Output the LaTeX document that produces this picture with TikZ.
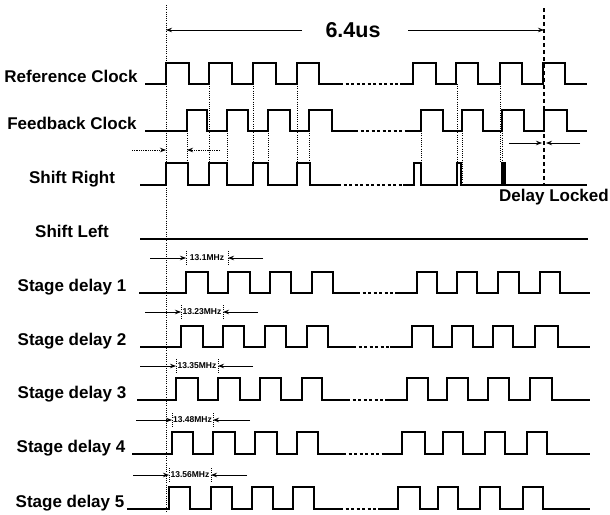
\documentclass[tikz,border=0pt]{standalone}
\usepackage{fontspec}
\setmainfont{Liberation Sans}
\usetikzlibrary{arrows.meta}
\tikzset{
  sig/.style={line width=2.3pt, line join=miter},
  gap/.style={line width=1.6pt, dash pattern=on 3pt off 2.5pt},
  guide/.style={line width=0.7pt, dash pattern=on 1pt off 1.2pt},
  lock/.style={line width=2pt, dash pattern=on 4pt off 3pt},
  dim/.style={line width=0.8pt, -{Stealth[length=6pt,width=4.5pt]}},
  lbl/.style={font=\fontsize{17}{19}\selectfont\bfseries, anchor=base},
  freq/.style={font=\fontsize{8.5}{9}\selectfont\bfseries, inner sep=0.5pt},
}
% one waveform: low y, high y, start x, rise/fall pairs, end x
\newcommand{\wave}[5]{%
  \draw[sig] (#3,#1) foreach \ra/\fa in {#4} { -- (\ra,#1) -- (\ra,#2) -- (\fa,#2) -- (\fa,#1) } -- (#5,#1);}

\begin{document}
\begin{tikzpicture}[x=1pt,y=-1pt]
\useasboundingbox (0,0) rectangle (610,514);

% Period markers
\coordinate (t0top) at (166,5);
\coordinate (t0bot) at (166,512);
\coordinate (t1top) at (544,8);
\coordinate (t1bot) at (544,185);
\draw[guide] (t0top) -- (t0bot);
\draw[lock] (t1top) -- (t1bot);
\node[font=\fontsize{21.5}{24}\selectfont\bfseries] (period) at (353,30) {6.4us};
\coordinate (pl) at (302,30);
\coordinate (pr) at (408,30);
\draw[dim] (pl) -- (t0top |- period);
\draw[dim] (pr) -- (t1top |- period);

% Signal names
\node[lbl] (ref) at (71,82) {Reference Clock};
\node[lbl] (fb) at (72,129) {Feedback Clock};
\node[lbl] (sr) at (72,183) {Shift Right};
\node[lbl] (sl) at (72,237) {Shift Left};
\node[lbl] (sd1) at (72,291) {Stage delay 1};
\node[lbl] (sd2) at (72,345) {Stage delay 2};
\node[lbl] (sd3) at (72,398) {Stage delay 3};
\node[lbl] (sd4) at (71,452) {Stage delay 4};
\node[lbl] (sd5) at (70,507) {Stage delay 5};

% Reference clock
\wave{84}{63}{145}{166/189,209/232,253/276,297/319}{340}
\draw[gap] (340,84) -- (400,84);
\wave{84}{63}{400}{413/436,456/478,500/522,543/565}{587}

% Feedback clock
\wave{131}{110}{145}{187/207,227/248,268/290,309/332}{355}
\draw[gap] (355,131) -- (405,131);
\wave{131}{110}{405}{421/443,462/483,502/524,544/567}{587}

% Shift right
\wave{185}{163}{140}{166/188,209/227,253/268,297/310}{338}
\draw[gap] (338,185) -- (403,185);
\wave{185}{163}{403}{414/421,457/461,502/504.5}{587}

% Shift left
\draw[sig] (140,239) -- (588,239);

% Guides from the clock edges
\foreach \x in {209,253,297,457,500} \draw[guide] (\x,84) -- (\x,163);
\foreach \x in {187,227,268,309,421,462,502} \draw[guide] (\x,131) -- (\x,185);

% Phase error arrows
\coordinate (sra) at (132,150);
\coordinate (srb) at (220,150);
\coordinate (srt) at (187,150);
\draw[dim, densely dotted] (sra) -- (t0top |- sra);
\draw[dim, densely dotted] (srb) -- (srt);

% Lock point
\coordinate (lka) at (509,143);
\coordinate (lkb) at (580,143);
\draw[dim] (lka) -- ([xshift=-2pt]t1top |- lka);
\draw[dim] (lkb) -- ([xshift=2pt]t1top |- lkb);
\node[lbl] (locked) at (554,201) {Delay Locked};

% Stage delays
\wave{293}{272}{139}{186/208,228/250,270/291,312/333}{357}
\draw[gap] (357,293) -- (395,293);
\wave{293}{272}{395}{417/437,457/477,498/519,540/560}{590}

\wave{347}{326}{140}{181/203,223/244,265/286,307/328}{353}
\draw[gap] (353,347) -- (390,347);
\wave{347}{326}{390}{412/433,452/473,493/513,535/558}{590}

\wave{400}{378}{137}{176/198,218/240,260/281,302/322}{347}
\draw[gap] (347,400) -- (385,400);
\wave{400}{378}{385}{407/428,447/468,488/509,530/552}{590}

\wave{454}{432}{132}{172/193,213/235,255/277,297/318}{343}
\draw[gap] (343,454) -- (382,454);
\wave{454}{432}{382}{402/425,443/463,485/505,527/547}{590}

\wave{509}{487}{127}{169/190,211/232,252/273,293/314}{340}
\draw[gap] (340,509) -- (378,509);
\wave{509}{487}{378}{398/420,438/458,480/500,523/543}{590}

% Frequency marks
\foreach \y/\l/\ra/\rb/\r/\t [count=\i] in {258/150/186/228/263/13.1MHz, 312/145/181/223/258/13.23MHz,
    366/140/176/218/253/13.35MHz, 420/136/172/213/250/13.48MHz, 475/133/169/211/247/13.56MHz} {
  \draw[guide] (\ra,\y-7) -- (\ra,\y+7);
  \draw[guide] (\rb,\y-7) -- (\rb,\y+7);
  \draw[dim] (\l,\y) -- (\ra,\y);
  \draw[dim] (\r,\y) -- (\rb,\y);
  \node[freq] (freq\i) at ({(\ra+\rb)/2},\y) {\t};
}

\end{tikzpicture}
\end{document}
